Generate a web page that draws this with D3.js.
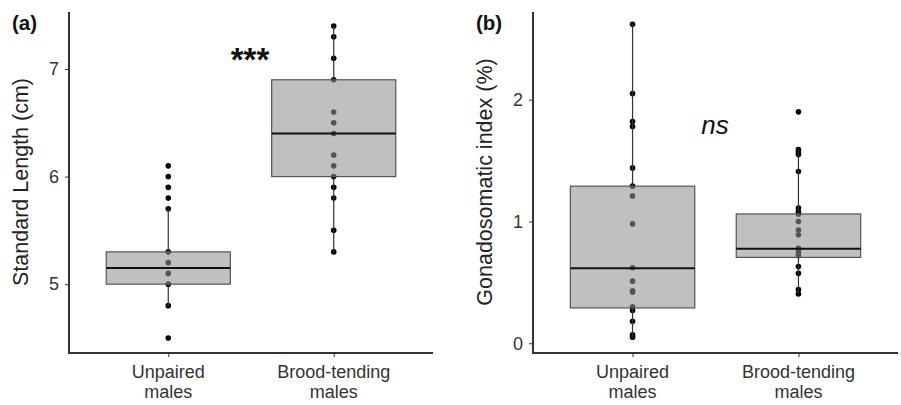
<!DOCTYPE html>
<html>
<head>
<meta charset="utf-8">
<script src="https://cdn.jsdelivr.net/npm/d3@7"></script>
<style>
    body{margin:0;background:#fff;}
    svg{display:block;font-family:"Liberation Sans",Arial,sans-serif;}
</style>
</head>
<body>
<svg id="chart" width="901" height="405"></svg>
<script>
// categories, shared by both panels
var groups = ['Unpaired', 'Brood-tending'];
var groupLines = [['Unpaired', 'males'], ['Brood-tending', 'males']];

// (a) standard length, cm
var slUnpaired = [6.1, 6.0, 5.9, 5.8, 5.7, 5.3, 5.2, 5.1, 5.0, 4.8, 4.5];
var slBrood = [7.4, 7.3, 7.1, 6.9, 6.6, 6.5, 6.4, 6.2, 6.1, 6.0, 5.9, 5.8, 5.5, 5.3];
// box stats: [whiskerLow, q1, median, q3, whiskerHigh]
var slBoxes = [[4.8, 5.0, 5.15, 5.3, 5.7], [5.3, 6.0, 6.4, 6.9, 7.4]];
var slTicks = [5, 6, 7];

// (b) gonadosomatic index, %
var gsiUnpaired = [2.62, 2.05, 1.82, 1.78, 1.44, 1.29, 1.21, 0.98, 0.62, 0.51, 0.43, 0.42, 0.30, 0.27, 0.18, 0.07, 0.05];
var gsiBrood = [1.9, 1.59, 1.57, 1.55, 1.41, 1.11, 1.08, 1.06, 1.0, 0.93, 0.89, 0.78, 0.75, 0.72, 0.63, 0.575, 0.44, 0.405];
var gsiBoxes = [[0.05, 0.29, 0.615, 1.29, 2.62], [0.405, 0.705, 0.775, 1.062, 1.59]];
var gsiTicks = [0, 1, 2];

var svg = d3.select('#chart');

function drawPanel(opt){
    var g = svg.append('g');
    var x = d3.scalePoint().domain(groups).range([opt.left, opt.right]).padding(0.6);
    var y = d3.scaleLinear().domain(opt.domain).range([opt.bottom, opt.top]);
    var boxW = x.step() * 0.75;

    // dots go under the translucent boxes
    opt.points.forEach(function (vals, i) {
        g.selectAll(null).data(vals).enter().append('circle')
            .attr('cx', x(groups[i])).attr('cy', function (d) { return y(d); })
            .attr('r', 2.8).attr('fill', '#000');
    });

    opt.boxes.forEach(function (b, i) {
        var cx = x(groups[i]);
        g.append('line').attr('x1', cx).attr('x2', cx)
            .attr('y1', y(b[3])).attr('y2', y(b[4]))
            .attr('stroke', '#333').attr('stroke-width', 1.2);
        g.append('line').attr('x1', cx).attr('x2', cx)
            .attr('y1', y(b[0])).attr('y2', y(b[1]))
            .attr('stroke', '#333').attr('stroke-width', 1.2);
        g.append('rect').attr('x', cx - boxW / 2).attr('width', boxW)
            .attr('y', y(b[3])).attr('height', y(b[1]) - y(b[3]))
            .attr('fill', '#939393').attr('fill-opacity', 0.58)
            .attr('stroke', '#555').attr('stroke-width', 1.2);
        g.append('line').attr('x1', cx - boxW / 2).attr('x2', cx + boxW / 2)
            .attr('y1', y(b[2])).attr('y2', y(b[2]))
            .attr('stroke', '#111').attr('stroke-width', 2);
    });

    var yAxis = g.append('g').attr('transform', 'translate(' + opt.left + ',0)')
        .call(d3.axisLeft(y).tickValues(opt.ticks).tickSize(4).tickPadding(6).tickFormat(d3.format('d')));
    var xAxis = g.append('g').attr('transform', 'translate(0,' + opt.bottom + ')')
        .call(d3.axisBottom(x).tickSize(4).tickFormat(''));
    [yAxis, xAxis].forEach(function (ax) {
        ax.select('.domain').attr('stroke', '#333').attr('stroke-width', 2);
        ax.selectAll('.tick line').attr('stroke', '#333').attr('stroke-width', 1);
    });
    yAxis.select('.domain').attr('d', 'M0,' + (opt.bottom + 1) + 'V' + opt.top);
    xAxis.select('.domain').attr('d', 'M' + (opt.left - 1) + ',0H' + opt.right);
    yAxis.selectAll('.tick text').attr('font-size', 18).attr('fill', '#333')
        .style('font-family', '"Liberation Sans",Arial,sans-serif');

    groupLines.forEach(function (lines, i) {
        var t = g.append('text').attr('text-anchor', 'middle')
            .attr('font-size', 18).attr('fill', '#333');
        lines.forEach(function (s, k) {
            t.append('tspan').attr('x', x(groups[i])).attr('y', 378 + k * 19.5).text(s);
        });
    });

    g.append('text').attr('transform', 'translate(' + opt.titleX + ',182) rotate(-90)')
        .attr('text-anchor', 'middle').attr('font-size', 21.5).attr('fill', '#222')
        .text(opt.title);

    g.append('text').attr('x', opt.tagX).attr('y', 30)
        .attr('font-size', 20.5).attr('font-weight', 'bold').attr('fill', '#111')
        .text(opt.tag);

    g.append('text').attr('x', opt.sig[0]).attr('y', opt.sig[1])
        .attr('text-anchor', 'middle').attr('font-size', opt.sig[2])
        .attr('font-style', opt.sig[4]).attr('font-weight', opt.sig[5]).attr('fill', '#111')
        .text(opt.sig[3]);
}

drawPanel({
    left:69, right:433, top:12, bottom:353,
    domain:[4.36, 7.53], ticks:slTicks,
    points:[slUnpaired, slBrood], boxes:slBoxes,
    title:'Standard Length (cm)', titleX:28,
    tag:'(a)', tagX:12,
    sig:[250, 71, 33, '***', 'normal', 'bold']
});

drawPanel({
    left:533, right:898, top:12, bottom:353,
    domain:[-0.08, 2.72], ticks:gsiTicks,
    points:[gsiUnpaired, gsiBrood], boxes:gsiBoxes,
    title:'Gonadosomatic index (%)', titleX:492,
    tag:'(b)', tagX:476,
    sig:[715, 134, 26, 'ns', 'italic', 'normal']
});
</script>
</body>
</html>
